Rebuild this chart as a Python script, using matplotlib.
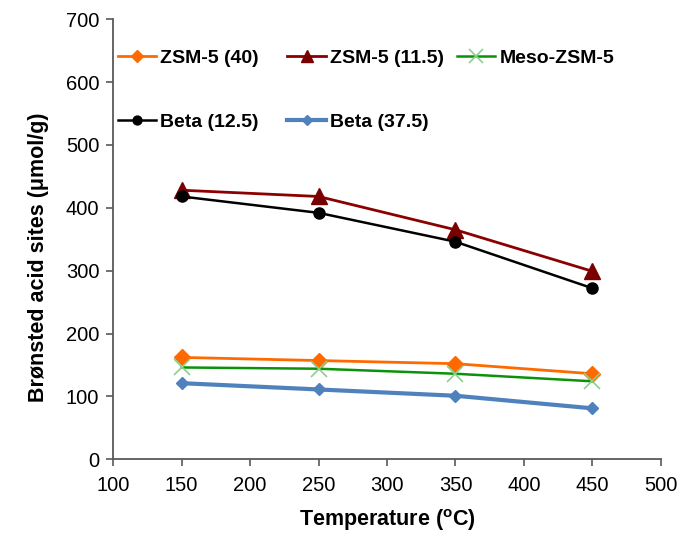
import matplotlib
matplotlib.use("Agg")
import matplotlib.pyplot as plt

plt.rcParams['font.family'] = ['Liberation Sans', 'DejaVu Sans']
plt.rcParams['mathtext.fontset'] = 'custom'
plt.rcParams['mathtext.rm'] = 'Liberation Sans'
plt.rcParams['mathtext.bf'] = 'Liberation Sans:bold'

temperature = [150, 250, 350, 450]
zsm5_40 = [162, 157, 152, 136]
zsm5_115 = [428, 418, 365, 299]
meso_zsm5 = [146, 144, 136, 124]
beta_125 = [418, 392, 346, 272]
beta_375 = [121, 111, 101, 81]

labels = ["ZSM-5 (40)", "ZSM-5 (11.5)", "Meso-ZSM-5", "Beta (12.5)", "Beta (37.5)"]
xticks = [100, 150, 200, 250, 300, 350, 400, 450, 500]
yticks = [0, 100, 200, 300, 400, 500, 600, 700]

fig = plt.figure(figsize=(6.82, 5.34), dpi=100)
ax = fig.add_axes([0.166, 0.14, 0.803, 0.824])

h1, = ax.plot(temperature, zsm5_40, color='#FF6A00', lw=2, marker='D', ms=8,
              mfc='#FF6A00', mec='#FF6A00', label=labels[0])
h2, = ax.plot(temperature, zsm5_115, color='#8B0000', lw=2, marker='^', ms=11,
              mfc='#7A0000', mec='#7A0000', label=labels[1])
h3, = ax.plot(temperature, meso_zsm5, color='#0A930A', lw=1.8, marker='x', ms=12,
              mew=1.2, mec='#8CD08C', label=labels[2])
h4, = ax.plot(temperature, beta_125, color='black', lw=1.8, marker='o', ms=8,
              mfc='black', mec='black', label=labels[3])
h5, = ax.plot(temperature, beta_375, color='#4F81BD', lw=3, marker='D', ms=6,
              mfc='#4F81BD', mec='#4F81BD', label=labels[4])

ax.set_xlim(100, 500)
ax.set_ylim(0, 700)
ax.set_xticks(xticks)
ax.set_yticks(yticks)
for s in ['top', 'right']:
    ax.spines[s].set_visible(False)
for s in ['left', 'bottom']:
    ax.spines[s].set_color('#595959')
    ax.spines[s].set_linewidth(1.3)
ax.tick_params(axis='both', direction='out', length=5, width=1.2, color='#595959',
               labelsize=14.5, labelcolor='black')
ax.tick_params(axis='x', pad=7)
ax.tick_params(axis='y', pad=5)

ax.set_xlabel(r'Temperature ($\mathbf{^{o}}$C)', fontsize=15.5, fontweight='bold', labelpad=9)
ax.set_ylabel('Brønsted acid sites (μmol/g)', fontsize=15.5, fontweight='bold', labelpad=10)
ax.yaxis.set_label_coords(-0.118, 0.459)

# legend laid out in three fixed-width columns
cols = [([h1, h4], [labels[0], labels[3]], 0.008),
        ([h2, h5], [labels[1], labels[4]], 0.318),
        ([h3], [labels[2]], 0.627)]
for i, (hs, ls, x0) in enumerate(cols):
    leg = ax.legend(hs, ls, loc='upper left', bbox_to_anchor=(x0, 0.931), frameon=False,
                    prop={'weight': 'bold', 'size': 14}, handlelength=2.0,
                    handletextpad=0.2, labelspacing=2.35, borderaxespad=0, borderpad=0,
                    markerscale=0.8)
    if i < len(cols) - 1:
        ax.add_artist(leg)

fig.savefig('out.png', dpi=100)
